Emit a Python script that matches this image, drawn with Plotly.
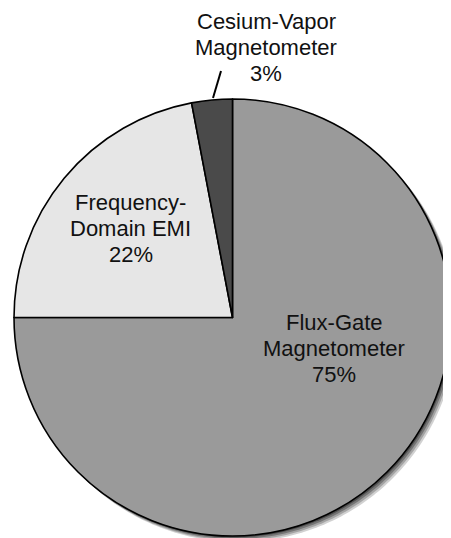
import numpy as np
import plotly.graph_objects as go

# ---- data ----
labels = ["Flux-Gate Magnetometer", "Frequency-Domain EMI", "Cesium-Vapor Magnetometer"]
label_lines = [["Flux-Gate", "Magnetometer"], ["Frequency-", "Domain EMI"], ["Cesium-Vapor", "Magnetometer"]]
values = [75, 22, 3]
colors = ["#9a9a9a", "#e6e6e6", "#4a4a4a"]

# the page body has an 8px margin, so the figure is sized to fit the window
PAGE_OFF = 8
WIN_W, WIN_H = 451, 538
W, H = WIN_W - PAGE_OFF, WIN_H - PAGE_OFF

def px(x):
    """window pixel x -> paper fraction"""
    return (x - PAGE_OFF) / W

def py(y):
    """window pixel y -> paper fraction"""
    return (WIN_H - y) / H

# pie geometry in window pixels
cx, cy, r = 232.5, 317.5, 218.5

fig = go.Figure()

# soft drop shadow (decoration) drawn on hidden pixel axes, beneath the pie layer
theta = np.linspace(0, 2 * np.pi, 361)
for off, alpha in [(6, 0.18), (4.5, 0.22), (3, 0.28), (1.5, 0.35)]:
    fig.add_trace(go.Scatter(
        x=cx + off + r * np.cos(theta), y=cy + off + r * np.sin(theta),
        mode="none", fill="toself", fillcolor=f"rgba(0,0,0,{alpha})",
        hoverinfo="skip", showlegend=False,
    ))

fig.add_trace(go.Pie(
    labels=labels, values=values, sort=False, direction="clockwise", rotation=0,
    marker=dict(colors=colors, line=dict(color="black", width=1.6)),
    textinfo="none", hoverinfo="label+percent", showlegend=False,
    domain=dict(x=[max(0.0, px(cx - r)), min(1.0, px(cx + r))],
                y=[max(0.0, py(cy + r)), min(1.0, py(cy - r))]),
))

total = sum(values)
label_pos = [(334, 322), (131, 202), (266, 22)]
spacing = 26
annotations = []
for lines, v, (lx, ly) in zip(label_lines, values, label_pos):
    all_lines = lines + [f"{round(100 * v / total)}%"]
    for i, t in enumerate(all_lines):
        annotations.append(dict(
            x=px(lx), y=py(ly + i * spacing), xref="paper", yref="paper",
            text=t, showarrow=False, xanchor="center", yanchor="middle",
            font=dict(family="Liberation Sans, Arial, sans-serif", size=22, color="#111111"),
        ))

shapes = [dict(type="line", xref="paper", yref="paper",
               x0=px(221), y0=py(71), x1=px(213), y1=py(98),
               line=dict(color="black", width=2))]

fig.update_layout(
    width=W, height=H,
    margin=dict(l=0, r=0, t=0, b=0),
    paper_bgcolor="white", plot_bgcolor="rgba(0,0,0,0)",
    xaxis=dict(range=[PAGE_OFF, WIN_W], visible=False, fixedrange=True, domain=[0, 1]),
    yaxis=dict(range=[WIN_H, PAGE_OFF], visible=False, fixedrange=True, domain=[0, 1]),
    annotations=annotations,
    shapes=shapes,
)

fig.write_html("out.html")
